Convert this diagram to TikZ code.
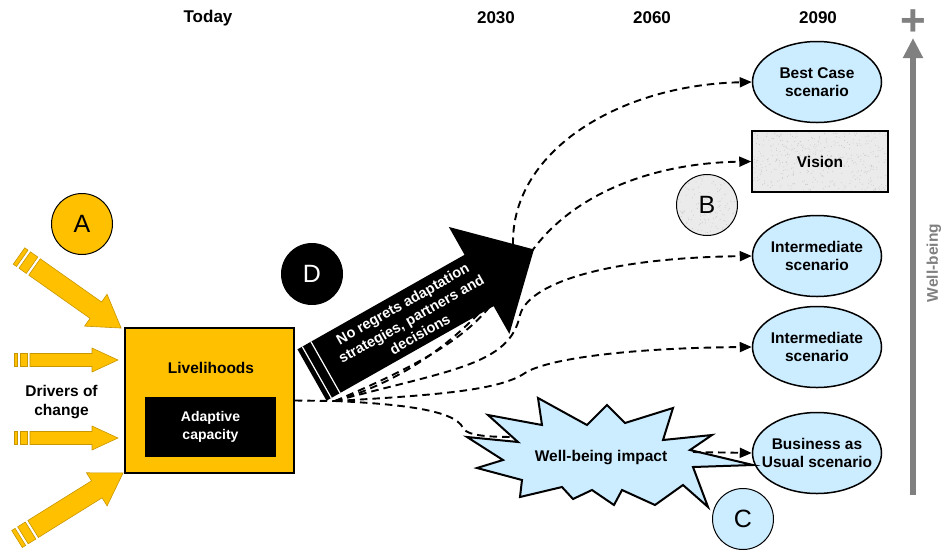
\documentclass[tikz,border=0pt]{standalone}
\usepackage{fontspec}
\setmainfont{Liberation Sans}
\usetikzlibrary{arrows.meta,shapes.geometric}
\definecolor{gold}{HTML}{FFC000}
\definecolor{goldline}{HTML}{C89600}
\definecolor{lblue}{HTML}{CCECFF}
\definecolor{texgray}{HTML}{EBEBEB}
\definecolor{speck}{HTML}{C9C9C9}
\definecolor{wbgray}{HTML}{808080}
\begin{document}
\begin{tikzpicture}[x=1pt,y=-1pt,
  txt/.style={font={\fontsize{15.5}{18.6}\selectfont\bfseries}, align=center},
  hdr/.style={font={\fontsize{17}{19}\selectfont\bfseries}},
  scen/.style={ellipse, draw, line width=1.5pt, fill=lblue, minimum width=129pt, minimum height=81pt, inner sep=0pt},
  letter/.style={circle, draw, line width=1pt, minimum size=61pt, inner sep=0pt, font={\fontsize{25}{25}\selectfont}},
  lettertxt/.style={inner sep=0pt, font={\fontsize{25}{25}\selectfont}},
  dsh/.style={line width=1.9pt, dash pattern=on 7.5pt off 5pt},
  arrowend/.style={-{Triangle[length=12pt,width=10pt]}},
  yarrow/.style={fill=gold, draw=goldline, line width=0.6pt},
]
\useasboundingbox (0,0) rectangle (943,550);

% headers
\node[hdr] (today) at (208,18) {Today};
\node[hdr] (y2030) at (496,18) {2030};
\node[hdr] (y2060) at (652,18) {2060};
\node[hdr] (y2090) at (818,18) {2090};

% well-being axis
\node[text=wbgray, font={\fontsize{44}{44}\selectfont\bfseries}, inner sep=0pt] (plus) at (913,23) {+};
\coordinate (wtop) at (913,38);
\coordinate (wbot) at (913,495);
\draw[wbgray, line width=6.5pt, -{Triangle[length=20pt,width=19pt]}] (wbot) -- (wtop);
\node[txt, text=wbgray, rotate=90] (wb) at (934,263) {Well-being};

% livelihoods box
\node[draw, line width=1.5pt, fill=gold, minimum width=169pt, minimum height=145pt, inner sep=0pt] (lh) at (209.5,400.5) {};
\node[txt] (lhtxt) at (211,368) {Livelihoods};
\node[fill=black, text=white, minimum width=131pt, minimum height=60pt, inner sep=0pt, align=center, font={\fontsize{14}{18.4}\selectfont\bfseries}] (ac) at (210.5,427) {Adaptive\\capacity};
\node[txt] (drv) at (61.5,402) {Drivers of\\change};

% driver arrows
\begin{scope}[shift={(14,360)}]
  \path[yarrow] (0,-6.5) rectangle (3,6.5) (6,-6.5) rectangle (13,6.5);
  \path[yarrow] (16,-6.5) -- (78,-6.5) -- (78,-12) -- (104,0) -- (78,12) -- (78,6.5) -- (16,6.5) -- cycle;
\end{scope}
\begin{scope}[shift={(14,438)}]
  \path[yarrow] (0,-6.5) rectangle (3,6.5) (6,-6.5) rectangle (13,6.5);
  \path[yarrow] (16,-6.5) -- (78,-6.5) -- (78,-12) -- (104,0) -- (78,12) -- (78,6.5) -- (16,6.5) -- cycle;
\end{scope}
\begin{scope}[shift={(19,256)}, rotate=-35.2]
  \path[yarrow] (0,-10) rectangle (4,10) (7,-10) rectangle (16,10);
  \path[yarrow] (19,-10) -- (94,-10) -- (94,-19.5) -- (125,0) -- (94,19.5) -- (94,10) -- (19,10) -- cycle;
\end{scope}
\begin{scope}[shift={(17,539)}, rotate=31.9]
  \path[yarrow] (0,-10) rectangle (4,10) (7,-10) rectangle (16,10);
  \path[yarrow] (19,-10) -- (94,-10) -- (94,-19.5) -- (125,0) -- (94,19.5) -- (94,10) -- (19,10) -- cycle;
\end{scope}

% circle A
\node[letter, fill=gold] (A) at (82,224) {A};

% scenario shapes
\node[scen] (best) at (817,82) {};
\node[txt] (besttxt) at (best) {Best Case\\scenario};
\node[draw, line width=1.5pt, fill=texgray, minimum width=136pt, minimum height=61pt, inner sep=0pt] (vis) at (820,161.5) {};
\begin{scope}
  \clip (753,132.5) rectangle (887,190.5);
  \pgfmathsetseed{11}
  \foreach \i in {1,...,450} {\fill[speck] ({753+134*rnd},{132.5+58*rnd}) circle (0.5pt);}
\end{scope}
\node[txt] (vistxt) at (vis) {Vision};
\node[scen] (int1) at (817,256) {};
\node[txt] (int1txt) at (int1) {Intermediate\\scenario};
\node[scen] (int2) at (817,347) {};
\node[txt] (int2txt) at (int2) {Intermediate\\scenario};
\node[scen] (bau) at (817,453) {};
\node[txt] (bautxt) at (bau) {Business as\\Usual scenario};

% dashed pathways
\coordinate (fan) at (335,401);
\coordinate (wbiL) at (522,437);
\draw[dsh] (lh.east) -- (fan);
\draw[dsh, arrowend] (fan) .. controls (430,360) and (513,320) .. (513,242) .. controls (513,150) and (620,85) .. (best.west);
\draw[dsh, arrowend] (fan) .. controls (440,370) and (495,299) .. (535,247) .. controls (575,195) and (650,163) .. (vis.west);
\draw[dsh, arrowend] (fan) .. controls (450,370) and (510,365) .. (520,315) .. controls (528,285) and (600,258) .. (int1.west);
\draw[dsh, arrowend] (fan) .. controls (440,395) and (500,390) .. (525,373) .. controls (545,360) and (620,348) .. (int2.west);
\draw[dsh] (fan) .. controls (400,404) and (455,410) .. (463,428) .. controls (468,437) and (495,437) .. (wbiL);

% black arrow
\begin{scope}[shift={(312,375)}, rotate=29.5]
  \fill[black] (0,-29.5) -- (192,-29.5) -- (192,-61.5) -- (255,0) -- (192,61.5) -- (192,29.5) -- (0,29.5) -- cycle;
  \draw[white, line width=1.2pt] (5.5,-29.5) -- (5.5,29.5) (15.5,-29.5) -- (15.5,29.5);
  \node[text=white, align=center, rotate=29.5, font={\fontsize{14.5}{17.5}\selectfont\bfseries}] (nr) at (114,0) {No regrets adaptation\\strategies, partners and\\decisions};
\end{scope}
\node[letter, fill=black, text=white] (D) at (312,274) {D};

% well-being impact starburst
\draw[line width=2pt, fill=lblue, line join=miter]
  (538,398) -- (587,425) -- (607,405) -- (625,423) -- (673,408) -- (663,440) -- (712,435) -- (690,450) -- (753,465) -- (693,467) -- (708,507) -- (683,485) -- (655,505) -- (622,490) -- (614,505) -- (592,490) -- (573,499) -- (562,487) -- (520,497) -- (522,480) -- (477,468) -- (503,460) -- (467,437) -- (518,442) -- (488,415) -- (542,425) -- cycle;
\node[txt] (wbi) at (601,458) {Well-being impact};
\coordinate (wbiR) at (693,452);
\draw[dsh, arrowend] (wbiR) -- (bau.west);

% circles B, C
\node[letter, fill=texgray] (B) at (707,205) {};
\begin{scope}
  \clip (707,205) circle (29.5pt);
  \pgfmathsetseed{5}
  \foreach \i in {1,...,160} {\fill[speck] ({677+60*rnd},{175+60*rnd}) circle (0.5pt);}
\end{scope}
\node[lettertxt] (Btxt) at (B) {B};
\node[letter, fill=lblue] (C) at (743,519) {C};
\end{tikzpicture}
\end{document}
